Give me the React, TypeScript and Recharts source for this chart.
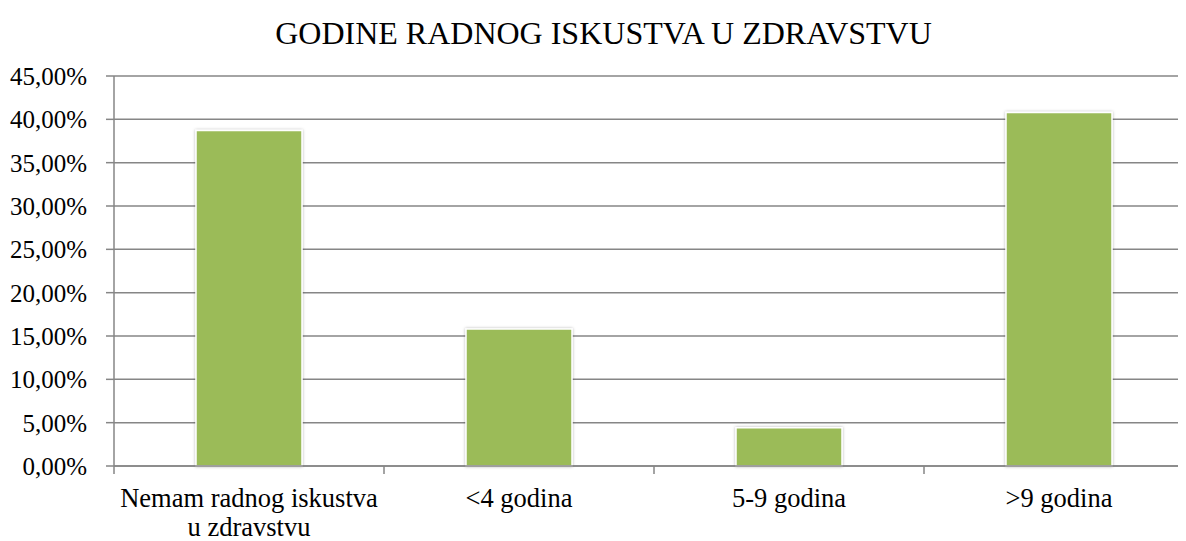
import { Bar, BarChart, CartesianGrid, XAxis, YAxis } from "recharts";

const categories = ["Nemam radnog iskustva u zdravstvu", "<4 godina", "5-9 godina", ">9 godina"];
const shares = [38.7, 15.8, 4.4, 40.8];
const yTicks = [0, 5, 10, 15, 20, 25, 30, 35, 40, 45];
const title = "GODINE RADNOG ISKUSTVA U ZDRAVSTVU";

const data = categories.map((name, i) => ({ name, value: shares[i] }));

const FONT = "'Liberation Serif', 'Times New Roman', serif";
const GRID = "#868686";

function wrap(label: string, max = 22) {
  const lines: string[] = [];
  let cur = "";
  for (const word of label.split(" ")) {
    const next = cur ? `${cur} ${word}` : word;
    if (next.length > max && cur) {
      lines.push(cur);
      cur = word;
    } else {
      cur = next;
    }
  }
  if (cur) lines.push(cur);
  return lines;
}

// category ticks sit on the band edges, labels in the middle
function CategoryTick(props: any) {
  const { x, y, payload } = props;
  const half = 270 / 2;
  const lines = wrap(String(payload.value));
  return (
    <g>
      <line x1={x - half} x2={x - half} y1={y} y2={y + 8} stroke={GRID} strokeWidth={1.5} />
      <text x={x} y={y + 41} textAnchor="middle" fill="#000" fontSize={26.5} fontFamily={FONT}>
        {lines.map((line, i) => (
          <tspan key={i} x={x} dy={i === 0 ? 0 : 29}>
            {line}
          </tspan>
        ))}
      </text>
    </g>
  );
}

export default function App() {
  return (
    <div style={{ position: "relative", width: 1178, height: 533, overflow: "hidden", background: "#fff" }}>
      <div
        style={{
          position: "absolute",
          top: 9,
          left: 0,
          width: 1191,
          textAlign: "center",
          fontFamily: FONT,
          fontSize: 32,
          lineHeight: "32px",
          color: "#000",
          whiteSpace: "nowrap",
        }}
      >
        {title}
      </div>
      <BarChart width={1200} height={533} data={data} margin={{ top: 68, right: 14, left: 0, bottom: 0 }}>
        <defs>
          <filter id="barShadow" x="-10%" y="-10%" width="120%" height="120%">
            <feDropShadow dx="0" dy="0" stdDeviation="1.5" floodColor="#000" floodOpacity="0.3" />
          </filter>
        </defs>
        <CartesianGrid vertical={false} stroke={GRID} strokeWidth={1.5} />
        <XAxis
          dataKey="name"
          height={75}
          interval={0}
          tickLine={false}
          tickSize={0}
          tickMargin={0}
          axisLine={{ stroke: GRID, strokeWidth: 1.5 }}
          tick={<CategoryTick />}
        />
        <YAxis
          width={106}
          domain={[0, 45]}
          ticks={yTicks}
          interval={0}
          tickSize={8}
          tickMargin={19}
          tickLine={{ stroke: GRID, strokeWidth: 1.5 }}
          axisLine={{ stroke: GRID, strokeWidth: 1.5 }}
          tick={{ fill: "#000", fontSize: 25, fontFamily: FONT }}
          tickFormatter={(v: number) => `${v.toFixed(2).replace(".", ",")}%`}
        />
        <Bar
          dataKey="value"
          fill="#9BBB59"
          stroke="#fff"
          strokeWidth={1.5}
          barSize={106}
          filter="url(#barShadow)"
          isAnimationActive={false}
        />
      </BarChart>
    </div>
  );
}
